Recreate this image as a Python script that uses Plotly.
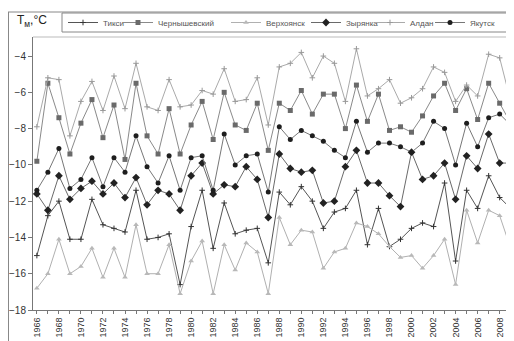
import plotly.graph_objects as go

# Годы наблюдений
years = list(range(1966, 2010))

# Среднегодовая температура воздуха, °C
tiksi = [-15.0, -12.8, -12.0, -14.1, -14.1, -11.9, -13.3, -13.5, -13.7, -11.4,
         -14.1, -14.0, -13.8, -16.6, -13.4, -11.4, -14.6, -12.1, -13.8, -13.6,
         -13.5, -15.4, -11.5, -12.2, -11.2, -12.0, -13.5, -12.6, -12.4, -11.4,
         -14.4, -12.4, -14.5, -14.1, -13.5, -13.2, -13.4, -11.0, -15.3, -11.4,
         -12.4, -10.6, -11.8, -12.4]
chernyshevsky = [-9.8, -5.5, -7.4, -9.4, -7.7, -6.4, -8.5, -6.7, -9.7, -5.5,
                 -8.4, -9.4, -6.9, -9.4, -7.8, -6.5, -8.6, -6.0, -7.8, -8.1,
                 -6.6, -9.2, -6.6, -7.0, -5.9, -7.2, -6.1, -6.1, -8.0, -5.6,
                 -7.6, -6.1, -8.1, -7.9, -8.2, -7.3, -6.2, -5.5, -7.0, -5.8,
                 -7.5, -5.5, -6.6, -7.7]
verkhoyansk = [-16.8, -16.0, -14.1, -16.0, -15.6, -14.6, -16.2, -14.6, -16.2, -13.3,
               -16.0, -16.0, -14.4, -17.1, -15.3, -14.2, -17.1, -14.4, -15.8, -14.3,
               -14.8, -17.1, -12.9, -14.4, -13.6, -13.7, -15.7, -14.8, -14.6, -13.2,
               -13.4, -13.8, -14.5, -15.1, -15.0, -15.7, -15.0, -14.1, -16.6, -12.5,
               -14.3, -12.5, -12.8, -14.6]
zyryanka = [-11.6, -12.5, -10.6, -11.9, -11.3, -10.9, -11.6, -11.0, -11.8, -10.7,
            -12.2, -11.4, -11.6, -12.5, -10.6, -9.9, -11.6, -11.1, -11.2, -10.1,
            -10.8, -12.9, -9.4, -10.2, -10.4, -10.3, -12.1, -12.0, -10.1, -9.2,
            -11.0, -11.0, -11.7, -12.3, -9.3, -10.8, -10.6, -9.9, -11.9, -9.5,
            -10.2, -8.3, -9.9, -9.9]
aldan = [-7.9, -5.2, -5.3, -8.4, -6.5, -5.4, -7.0, -5.1, -6.9, -4.4,
         -6.8, -7.0, -5.3, -6.8, -6.7, -5.9, -6.1, -4.7, -6.5, -6.4,
         -5.2, -7.8, -4.6, -4.4, -3.8, -5.2, -4.0, -4.4, -6.5, -3.6,
         -6.2, -5.8, -5.3, -6.6, -6.3, -5.8, -4.6, -4.9, -6.5, -5.6,
         -6.2, -3.9, -4.1, -6.5]
yakutsk = [-11.4, -10.4, -9.1, -11.3, -10.8, -9.6, -11.2, -9.6, -10.4, -8.4,
           -10.1, -11.0, -9.5, -11.4, -9.6, -9.5, -11.4, -8.3, -10.0, -9.5,
           -9.4, -11.5, -7.9, -8.6, -8.1, -8.4, -8.7, -9.2, -9.6, -7.6,
           -9.3, -8.8, -8.8, -9.0, -9.3, -8.8, -7.6, -8.0, -10.0, -7.7,
           -9.0, -7.4, -7.2, -7.8]

x_ticks = list(range(1966, 2009, 2))
y_ticks = [-4, -6, -8, -10, -12, -14, -16, -18]

# страница имеет отступ 8 px, поэтому сам рисунок 506x333
W, H = 506, 333

# пиксели окна -> координаты области построения (33..514 x 37..310)
def px(x):
    return (x - 33) / 481

def py(y):
    return (310 - y) / 273

# имя, данные, цвет линии, маркер, положение элемента легенды (px)
series = [
    ("Тикси", tiksi, "#555555",
     dict(symbol="cross-thin", size=4, line=dict(width=1, color="#333333")), 63),
    ("Чернышевский", chernyshevsky, "#8a8a8a",
     dict(symbol="square", size=5, color="#6a6a6a"), 118),
    ("Верхоянск", verkhoyansk, "#b0b0b0",
     dict(symbol="triangle-up", size=5, color="#b8b8b8"), 226),
    ("Зырянка", zyryanka, "#6a6a6a",
     dict(symbol="diamond", size=6, color="#222222"), 306),
    ("Алдан", aldan, "#aaaaaa",
     dict(symbol="cross-thin", size=4, line=dict(width=1, color="#999999")), 370),
    ("Якутск", yakutsk, "#777777",
     dict(symbol="circle", size=5, color="#1e1e1e"), 430),
]

fig = go.Figure()
legends = {}
for i, (name, vals, color, marker, lx) in enumerate(series):
    key = "legend" if i == 0 else f"legend{i + 1}"
    fig.add_trace(go.Scatter(
        x=years, y=vals, mode="lines+markers", name=name,
        line=dict(color=color, width=1), marker=marker,
        legend=key
    ))
    legends[key] = dict(
        x=px(lx), y=py(22), xanchor="left", yanchor="middle",
        font=dict(size=8, color="#555555"), itemwidth=30,
        bgcolor="rgba(0,0,0,0)", borderwidth=0,
    )

shapes = [
    # внешняя рамка
    dict(type="line", xref="paper", yref="paper", x0=px(8.5), x1=px(8.5), y0=py(12), y1=py(341),
         line=dict(color="#888888", width=1)),
    dict(type="line", xref="paper", yref="paper", x0=px(8), x1=px(514), y0=py(12), y1=py(12),
         line=dict(color="#888888", width=1)),
    # рамка легенды
    dict(type="rect", xref="paper", yref="paper", x0=px(62), x1=px(510), y0=py(32), y1=py(13),
         line=dict(color="#888888", width=1)),
    # верхняя граница области построения
    dict(type="line", xref="paper", yref="paper", x0=0, x1=1, y0=1, y1=1,
         line=dict(color="#bbbbbb", width=1)),
]

fig.update_layout(
    width=W, height=H,
    margin=dict(l=25, r=0, t=29, b=31),
    paper_bgcolor="white", plot_bgcolor="white",
    font=dict(family="Liberation Sans, Arial, sans-serif", color="#333333", size=10),
    showlegend=True,
    xaxis=dict(
        range=[1965.65, 2009.3], tickvals=x_ticks, ticktext=[str(v) for v in x_ticks],
        tickangle=-90, tickfont=dict(size=9),
        ticks="outside", ticklen=3,
        tickcolor="#777777", showline=True, linecolor="#777777", linewidth=1,
        showgrid=False, zeroline=False,
        minor=dict(dtick=1, tick0=1966, ticks="outside", ticklen=3, tickcolor="#777777"),
    ),
    yaxis=dict(
        range=[-18, -2.95], tickvals=y_ticks, ticks="outside", ticklen=4,
        tickcolor="#777777", showline=True, linecolor="#777777", linewidth=1,
        showgrid=False, zeroline=False, tickfont=dict(size=10),
    ),
    shapes=shapes,
    annotations=[dict(
        text="T<sub>м</sub>,°C", xref="paper", yref="paper", x=px(15), y=py(21),
        xanchor="left", yanchor="middle", showarrow=False,
        font=dict(size=12, color="#222222"),
    )],
    **legends,
)

fig.write_html("out.html")
